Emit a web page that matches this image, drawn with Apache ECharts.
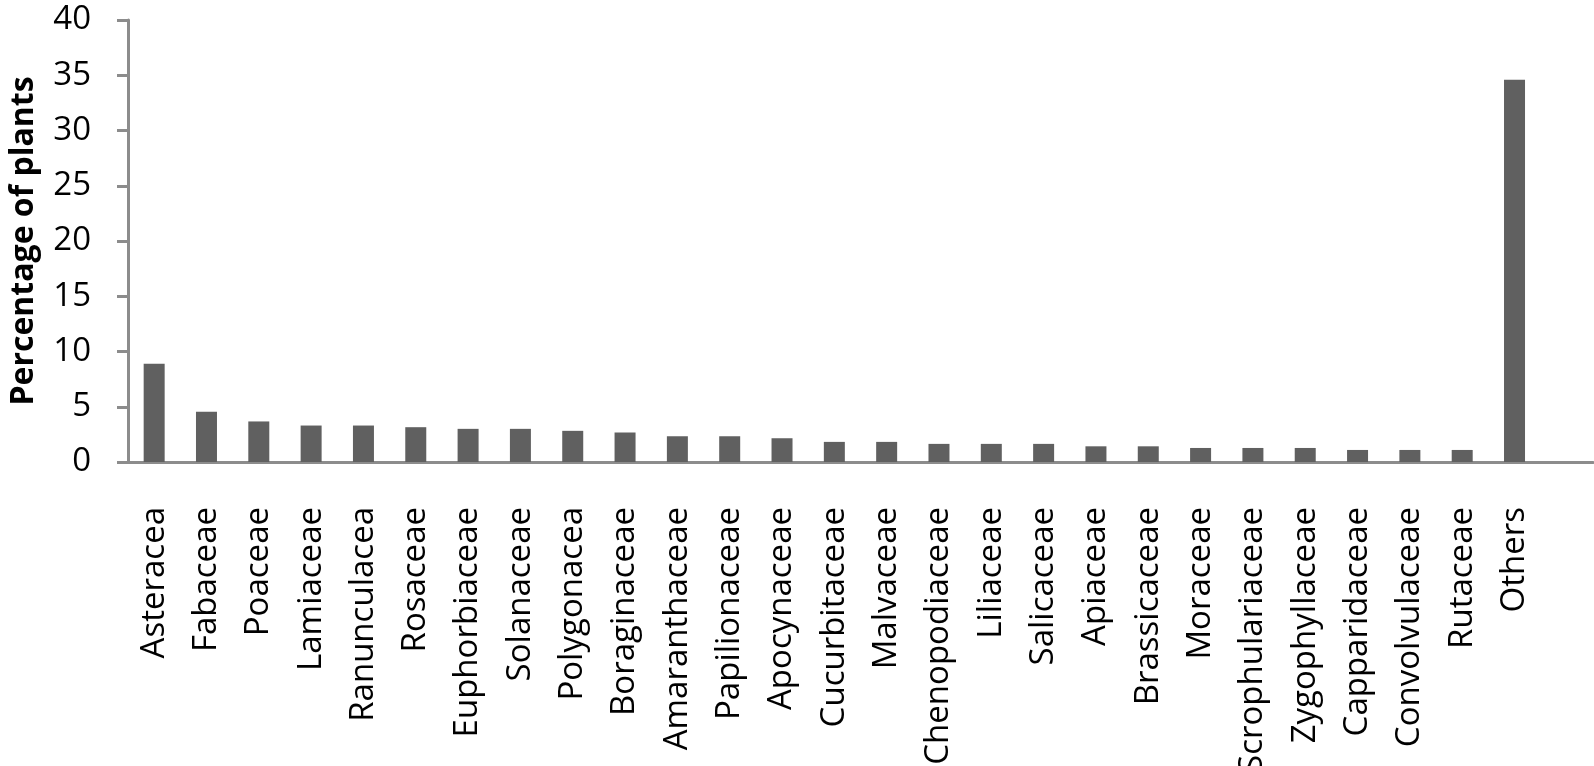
<!DOCTYPE html>
<html>
<head>
<meta charset="utf-8">
<title>Percentage of plants by family</title>
<script src="https://cdn.jsdelivr.net/npm/echarts@6/dist/echarts.min.js"></script>
<style>
  html, body { margin: 0; padding: 0; background: #fff; }
  #mychart { width: 1594px; height: 766px; }
</style>
</head>
<body>
<div id="mychart"></div>
<script>
  // families left to right (last slot is an empty one, the plot runs on past Others)
  var families = ['Asteracea', 'Fabaceae', 'Poaceae', 'Lamiaceae', 'Ranunculacea', 'Rosaceae',
    'Euphorbiaceae', 'Solanaceae', 'Polygonacea', 'Boraginaceae', 'Amaranthaceae', 'Papilionaceae',
    'Apocynaceae', 'Cucurbitaceae', 'Malvaceae', 'Chenopodiaceae', 'Liliaceae', 'Salicaceae',
    'Apiaceae', 'Brassicaceae', 'Moraceae', 'Scrophulariaceae', 'Zygophyllaceae', 'Capparidaceae',
    'Convolvulaceae', 'Rutaceae', 'Others', ''];

  // percentage of plants
  var percent = [8.9, 4.55, 3.67, 3.3, 3.3, 3.15,
    3.0, 3.0, 2.82, 2.67, 2.33, 2.33,
    2.15, 1.82, 1.82, 1.64, 1.64, 1.64,
    1.42, 1.42, 1.27, 1.27, 1.27, 1.09,
    1.09, 1.09, 34.6, null];

  var yTicks = { min: 0, max: 40, interval: 5 };

  var font = '"Open Sans", "Noto Sans", sans-serif';
  var axisGrey = '#8c8c8c';

  var chart = echarts.init(document.getElementById('mychart'));
  chart.setOption({
    animation: false,
    grid: {
      left: 128,
      right: 1,
      top: 20,
      bottom: 304,
      containLabel: false,
      outerBoundsMode: 'none'
    },
    xAxis: {
      type: 'category',
      data: families,
      axisLine: { lineStyle: { color: axisGrey, width: 3 } },
      axisTick: { show: false },
      axisLabel: {
        rotate: 90,
        interval: 0,
        margin: 45,
        color: '#000',
        fontFamily: font,
        fontSize: 33
      }
    },
    yAxis: {
      type: 'value',
      min: yTicks.min,
      max: yTicks.max,
      interval: yTicks.interval,
      name: 'Percentage of plants',
      nameLocation: 'middle',
      nameRotate: 90,
      nameGap: 88,
      nameTextStyle: {
        color: '#000',
        fontFamily: font,
        fontSize: 32,
        fontWeight: 'bold'
      },
      splitLine: { show: false },
      axisLine: { show: true, lineStyle: { color: axisGrey, width: 3 } },
      axisTick: { show: true, length: 11, lineStyle: { color: axisGrey, width: 3 } },
      axisLabel: {
        margin: 37,
        color: '#000',
        fontFamily: font,
        fontSize: 33
      }
    },
    series: [
      {
        type: 'bar',
        data: percent,
        barWidth: 21,
        itemStyle: { color: '#606060' }
      }
    ]
  });
</script>
</body>
</html>
